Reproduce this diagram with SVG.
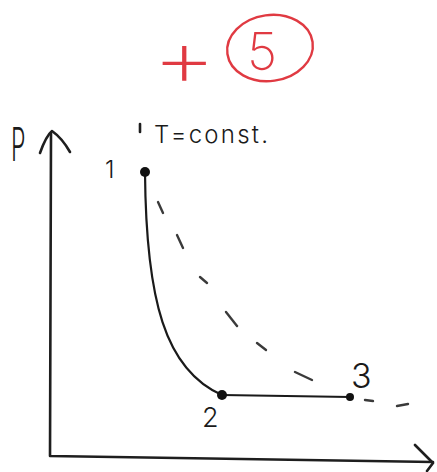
<svg xmlns="http://www.w3.org/2000/svg" width="437" height="472" viewBox="0 0 437 472">
<style>
.ax{fill:none;stroke:#1e1e1e;stroke-width:2.6;stroke-linecap:round;stroke-linejoin:round}
.crv{fill:none;stroke:#1a1a1a;stroke-width:2.2;stroke-linecap:round}
.dash{fill:none;stroke:#3a3a3a;stroke-width:2.4;stroke-linecap:round}
.pt{fill:#111}
.lbl{font-family:Inter,"Liberation Sans",sans-serif;font-weight:300;fill:#1a1a1a}
.red{font-family:"DejaVu Sans ExtraLight",Inter,"Liberation Sans",sans-serif;font-weight:200;fill:#e03a42}
</style>
<rect width="437" height="472" fill="#fff"/>
<g id="grade">
<text class="red" x="0" y="0" font-size="80" transform="translate(152,86) scale(1.25,1)">+</text>
<ellipse cx="270" cy="48" rx="43" ry="33" fill="none" stroke="#e03a42" stroke-width="2.4" transform="rotate(-8 270 48)"/>
<text class="red" x="247" y="70" font-size="52">5</text>
</g>
<g id="axes">
<path class="ax" d="M51,133 L50,456 L433,462"/>
<path class="ax" d="M40,153 Q46,136 52,131 Q62,138 70,152"/>
<path class="ax" d="M415,445 L433,463 L427,471"/>
<text class="lbl" x="0" y="0" font-size="46" transform="translate(11,161) scale(0.5,1)">P</text>
</g>
<g id="connectors">
<path id="isobar-1-2" class="crv" d="M145,172 C146,300 165,370 222,395"/>
<path id="isobar-2-3" class="crv" d="M222,395 L350,397"/>
<g id="isotherm">
<path class="dash" d="M158,202 L163,213"/>
<path class="dash" d="M177,235 L183,248"/>
<path class="dash" d="M200,277 L207,283"/>
<path class="dash" d="M226,312 L237,326"/>
<path class="dash" d="M257,343 L266,350"/>
<path class="dash" d="M295,372 L312,380"/>
<path class="dash" d="M365,400 L373,401"/>
<path class="dash" d="M397,406 L408,404"/>
</g>
</g>
<g id="node-1">
<circle class="pt" cx="145" cy="172" r="5"/>
<text class="lbl" x="105" y="178" font-size="24">1</text>
<path class="ax" d="M140,124 L140,132" stroke-width="2"/>
<text class="lbl" x="154" y="143" font-size="24" textLength="114" lengthAdjust="spacing">T=const.</text>
</g>
<g id="node-2">
<circle class="pt" cx="222" cy="395" r="5"/>
<text class="lbl" x="202" y="427" font-size="27">2</text>
</g>
<g id="node-3">
<circle class="pt" cx="350" cy="397" r="4"/>
<text class="lbl" x="351" y="388" font-size="34">3</text>
</g>
</svg>
